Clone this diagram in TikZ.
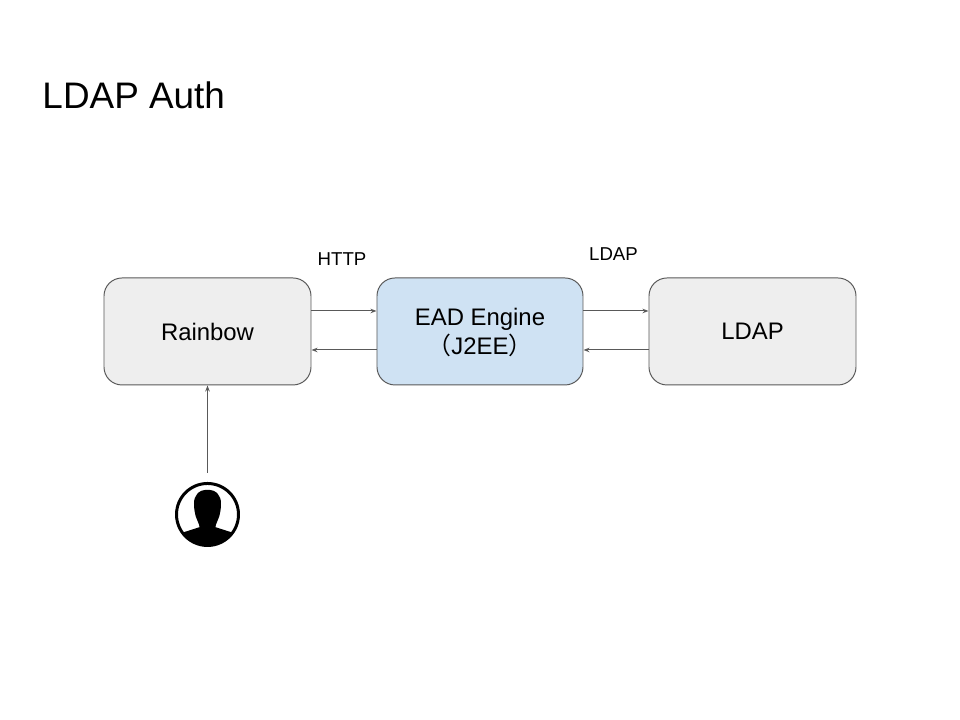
\documentclass[tikz,border=0pt]{standalone}
\usepackage{fontspec}
\setmainfont{Liberation Sans}
\newfontfamily\cjk{Noto Sans CJK SC}
\usepackage{xcolor}
\usetikzlibrary{arrows.meta}
\usetikzlibrary{calc}
\usetikzlibrary{positioning}
\definecolor{boxline}{HTML}{595959}
\definecolor{boxgrey}{HTML}{EEEEEE}
\definecolor{boxblue}{HTML}{CFE2F3}

\begin{document}
\begin{tikzpicture}[->,>={Stealth[length=0.06cm,width=0.045cm]},line width=0.28pt,
    main node/.style={rectangle,draw=boxline,rounded corners=0.18cm,minimum width=2.07cm,minimum height=1.07cm,align=center,font=\fontsize{6.8}{8.5}\selectfont},
    small label/.style={font=\fontsize{5.3}{6.5}\selectfont,inner sep=0pt}]

    \useasboundingbox (0,0) rectangle (9.6,7.2);

    \node[anchor=west,inner sep=0pt,font=\fontsize{10.5}{12}\selectfont] (title) at (0.42,6.25) {LDAP Auth};

    \node[main node,fill=boxgrey] (rainbow) at (2.075,3.885) {Rainbow};
    \node[main node,fill=boxblue,minimum width=2.06cm,on grid,right=2.725cm of rainbow] (ead) {EAD Engine\\\smash{\cjk （}J2EE\smash{\cjk ）}};
    \node[main node,fill=boxgrey,on grid,right=2.725cm of ead] (ldap) {LDAP};
    \node[circle,draw=black,line width=0.85pt,minimum size=0.62cm,inner sep=0pt,on grid,below=1.83cm of rainbow] (user) {};

    \node[small label,on grid,above right=0.725cm and 1.345cm of rainbow] (http) {HTTP};
    \node[small label,on grid,above right=0.775cm and 1.335cm of ead] (ldap-label) {LDAP};

    % silhouette
    \begin{scope}[shift={(user.center)}]
        \clip (0,0) circle (0.31cm);
        \fill[black] (0,0.247)
            .. controls (0.09,0.247) and (0.135,0.19) .. (0.135,0.11)
            .. controls (0.135,0.05) and (0.125,0.01) .. (0.117,-0.02)
            .. controls (0.1,-0.07) and (0.08,-0.10) .. (0.08,-0.127)
            -- (0.23,-0.175) -- (0.32,-0.2) -- (0.32,-0.33) -- (-0.32,-0.33) -- (-0.32,-0.2) -- (-0.23,-0.175)
            -- (-0.08,-0.127)
            .. controls (-0.08,-0.10) and (-0.1,-0.07) .. (-0.117,-0.02)
            .. controls (-0.125,0.01) and (-0.135,0.05) .. (-0.135,0.11)
            .. controls (-0.135,0.19) and (-0.09,0.247) .. (0,0.247) -- cycle;
    \end{scope}

    \path[draw=boxline] ($ (rainbow.east) + (0,0.205) $) -- ($ (ead.west) + (0,0.205) $);
    \path[draw=boxline] ($ (ead.west) - (0,0.185) $) -- ($ (rainbow.east) - (0,0.185) $);
    \path[draw=boxline] ($ (ead.east) + (0,0.205) $) -- ($ (ldap.west) + (0,0.205) $);
    \path[draw=boxline] ($ (ldap.west) - (0,0.185) $) -- ($ (ead.east) - (0,0.185) $);
    \path[draw=boxline,shorten <=0.09cm] (user.north) -- (rainbow.south);

\end{tikzpicture}
\end{document}
